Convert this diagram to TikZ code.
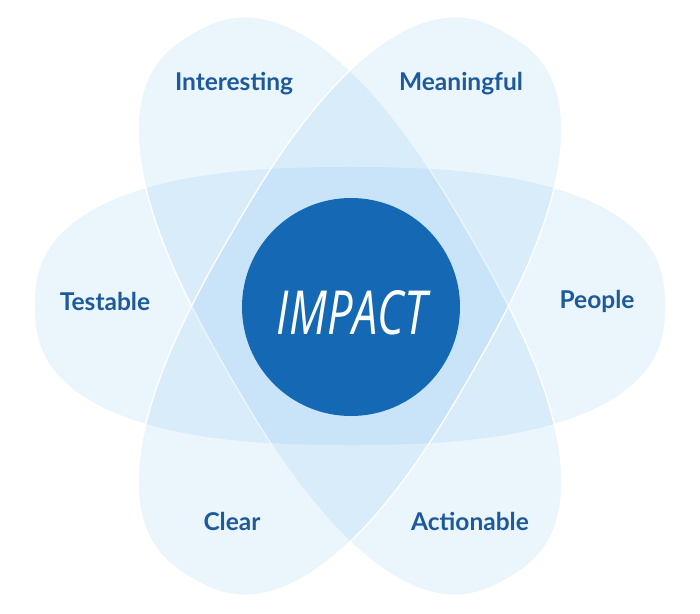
\documentclass[tikz,border=0pt]{standalone}
\usepackage{fontspec}
\setmainfont{Lato}
\newfontfamily\brushfont{Open Sans}
\definecolor{petal}{RGB}{65,165,235}
\definecolor{core}{RGB}{21,104,180}
\definecolor{labelblue}{RGB}{28,90,155}
\begin{document}
\begin{tikzpicture}[x=1pt,y=-1pt,
  petalflat/.style={fill=petal, fill opacity=0.10},
  petaltilt/.style={fill=petal, fill opacity=0.10, draw=white, draw opacity=1, line width=1.3pt},
  petallabel/.style={text=labelblue, font=\bfseries\fontsize{24.5}{28}\selectfont, inner sep=0pt}]
\def\pa{315}\def\pb{139}\def\pe{-0.2}% exponent 2/n - 1 with n = 2.5
\useasboundingbox (0,0) rectangle (700,613);
\fill[white] (0,0) rectangle (700,613);
% petals (superellipses)
\path[petalflat] plot[domain=0:358.5, samples=240, smooth cycle]
  ({350+\pa*cos(\x)*(abs(cos(\x))+0.0001)^(\pe)}, {306+\pb*sin(\x)*(abs(sin(\x))+0.0001)^(\pe)});
\path[petaltilt, rotate around={-60:(350,306)}] plot[domain=0:358.5, samples=240, smooth cycle]
  ({350+\pa*cos(\x)*(abs(cos(\x))+0.0001)^(\pe)}, {306+\pb*sin(\x)*(abs(sin(\x))+0.0001)^(\pe)});
\path[petaltilt, rotate around={60:(350,306)}] plot[domain=0:358.5, samples=240, smooth cycle]
  ({350+\pa*cos(\x)*(abs(cos(\x))+0.0001)^(\pe)}, {306+\pb*sin(\x)*(abs(sin(\x))+0.0001)^(\pe)});
% core
\node[circle, fill=core, minimum size=218pt, inner sep=0pt] (core) at (351,307) {};
\node[text=white, inner sep=0pt] (impact) at (352,313)
  {\resizebox{150pt}{44pt}{\brushfont\itshape IMPACT}};
% labels
\node[petallabel] (interesting) at (234,84) {Interesting};
\node[petallabel] (meaningful) at (461,84) {Meaningful};
\node[petallabel] (testable) at (105,301) {Testable};
\node[petallabel] (people) at (597,301) {People};
\node[petallabel] (clear) at (232,521) {Clear};
\node[petallabel] (actionable) at (470,521) {Actionable};
\end{tikzpicture}
\end{document}
